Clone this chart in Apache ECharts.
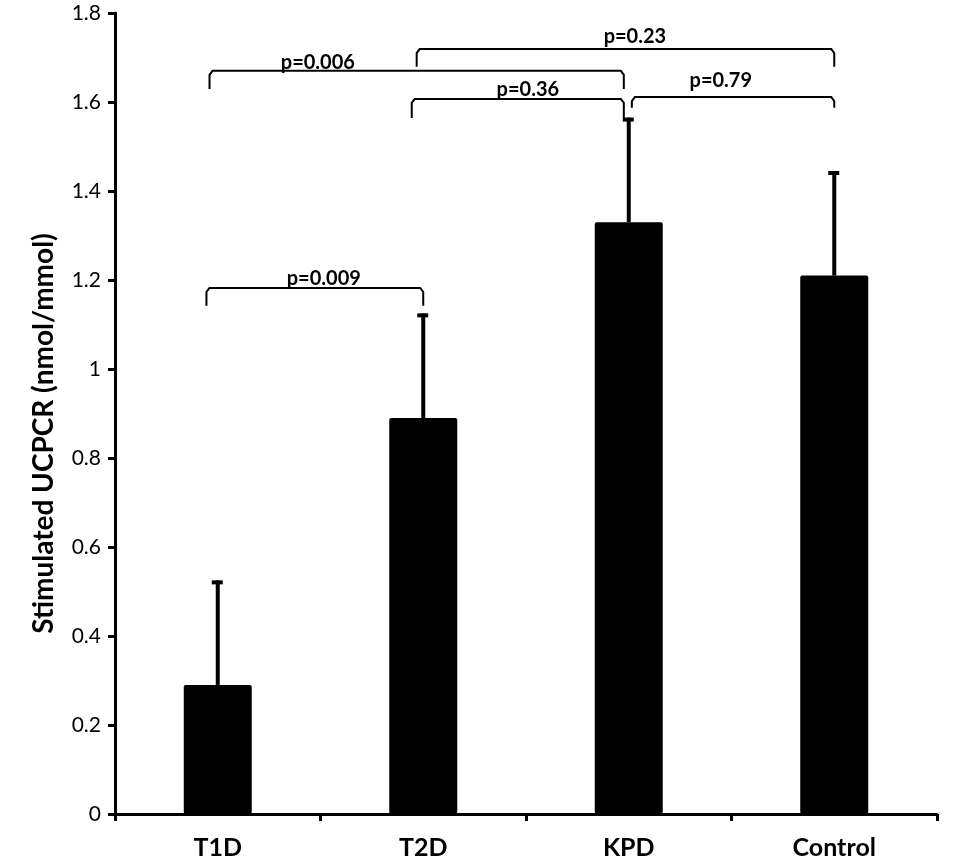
<!DOCTYPE html>
<html>
<head>
<meta charset="utf-8">
<script src="https://cdn.jsdelivr.net/npm/echarts@6/dist/echarts.min.js"></script>
<style>
  html, body { margin: 0; padding: 0; background: #fff; }
  #chart { width: 957px; height: 866px; }
</style>
</head>
<body>
<div id="chart"></div>
<script>
// groups and values
const categories = ['T1D', 'T2D', 'KPD', 'Control'];
const means = [0.29, 0.89, 1.33, 1.21];
const upperErr = [0.525, 1.125, 1.565, 1.445];

// significance brackets (x in category units, y in axis units)
const pLabels = ['p=0.009', 'p=0.006', 'p=0.36', 'p=0.23', 'p=0.79'];
const bracketFrom = [-0.055, -0.04, 0.944, 0.968, 2.015];
const bracketTo = [1.0, 1.976, 1.976, 3.0, 3.0];
const bracketTop = [1.182, 1.670, 1.607, 1.719, 1.611];
const bracketFoot = [1.142, 1.629, 1.564, 1.679, 1.587];
const labelX = [0.516, 0.487, 1.509, 2.03, 2.448];
const labelY = [1.180, 1.667, 1.605, 1.724, 1.625];

const FONT = 'Lato';

const chart = echarts.init(document.getElementById('chart'));

const option = {
  backgroundColor: '#fff',
  animation: false,
  grid: { left: 115, right: 20, top: 13, bottom: 52, containLabel: false },
  xAxis: [
    {
      type: 'category',
      data: categories,
      axisLine: { lineStyle: { color: '#000', width: 3 } },
      axisTick: { show: true, length: 7, lineStyle: { color: '#000', width: 3 } },
      axisLabel: { color: '#000', fontFamily: FONT, fontWeight: 'bold', fontSize: 25, margin: 21 }
    },
    {
      // helper axis for brackets, lines up with the category slots
      type: 'value',
      min: -0.5,
      max: 3.5,
      show: false
    }
  ],
  yAxis: {
    type: 'value',
    min: 0,
    max: 1.8,
    interval: 0.2,
    name: 'Stimulated UCPCR (nmol/mmol)',
    nameLocation: 'middle',
    nameGap: 57,
    nameTextStyle: {
      color: '#000', fontFamily: FONT, fontWeight: 'bold', fontSize: 28,
      padding: [0, 40, 0, 0]
    },
    axisLine: { show: true, onZero: false, lineStyle: { color: '#000', width: 3 } },
    axisTick: { show: true, length: 7, lineStyle: { color: '#000', width: 3 } },
    axisLabel: {
      color: '#000', fontFamily: FONT, fontSize: 21, margin: 14,
      formatter: v => String(+v.toFixed(1))
    },
    splitLine: { show: false }
  },
  series: [
    {
      type: 'bar',
      data: means,
      barWidth: 68,
      itemStyle: { color: '#000', borderRadius: 2 },
      z: 2
    },
    {
      // upper error bars
      type: 'custom',
      data: categories.map((c, i) => [i, means[i], upperErr[i]]),
      renderItem: (params, api) => {
        const base = api.coord([api.value(0), api.value(1)]);
        const top = api.coord([api.value(0), api.value(2)]);
        return {
          type: 'group',
          children: [
            {
              type: 'line',
              shape: { x1: base[0], y1: base[1], x2: top[0], y2: top[1] },
              style: { stroke: '#000', lineWidth: 4 }
            },
            {
              type: 'rect',
              shape: { x: top[0] - 6, y: top[1], width: 11, height: 4 },
              style: { fill: '#000' }
            }
          ]
        };
      },
      z: 3
    },
    {
      // p-value brackets
      type: 'custom',
      xAxisIndex: 1,
      data: pLabels.map((p, i) => [bracketFrom[i], bracketTo[i], bracketTop[i], bracketFoot[i], labelX[i], labelY[i]]),
      renderItem: (params, api) => {
        const i = params.dataIndex;
        const lt = api.coord([api.value(0), api.value(2)]);
        const lf = api.coord([api.value(0), api.value(3)]);
        const rt = api.coord([api.value(1), api.value(2)]);
        const rf = api.coord([api.value(1), api.value(3)]);
        const lab = api.coord([api.value(4), api.value(5)]);
        return {
          type: 'group',
          children: [
            {
              type: 'polyline',
              shape: { points: [lf, [lt[0], lt[1] + 4], [lt[0] + 3, lt[1]], [rt[0] - 3, rt[1]], [rt[0], rt[1] + 4], rf] },
              style: { stroke: '#000', lineWidth: 2, fill: null }
            },
            {
              type: 'text',
              x: lab[0],
              y: lab[1],
              style: {
                text: pLabels[i],
                fill: '#000',
                font: 'bold 20px ' + FONT,
                textAlign: 'center',
                textVerticalAlign: 'bottom'
              }
            }
          ]
        };
      },
      z: 4
    }
  ]
};

chart.setOption(option);
</script>
</body>
</html>
